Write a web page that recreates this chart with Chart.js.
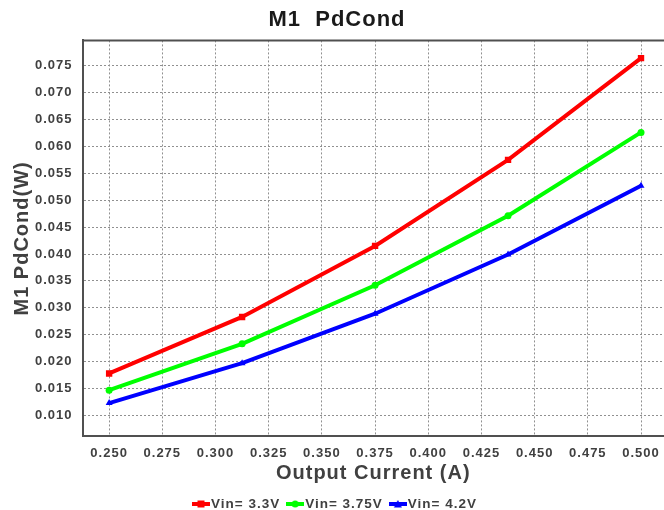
<!DOCTYPE html>
<html>
<head>
<meta charset="utf-8">
<script src="https://cdn.jsdelivr.net/npm/chart.js@4/dist/chart.umd.min.js"></script>
<style>
  html, body { margin: 0; padding: 0; background: #fff; }
  #wrap { width: 664px; height: 510px; }
</style>
</head>
<body>
<div id="wrap"><canvas id="c" width="664" height="510"></canvas></div>
<script>
// Output current (A) at each measurement
const currents = [0.25, 0.3125, 0.375, 0.4375, 0.5];
// M1 conduction loss (W) for each input voltage
const pd33 = [0.0178, 0.0283, 0.0415, 0.0575, 0.0764];
const pd375 = [0.0147, 0.0233, 0.0342, 0.0471, 0.0626];
const pd42 = [0.0123, 0.0197, 0.0289, 0.0399, 0.0527];
const seriesNames = ['Vin= 3.3V', 'Vin= 3.75V', 'Vin= 4.2V'];
// Axis tick positions
const xTicks = [0.25, 0.275, 0.3, 0.325, 0.35, 0.375, 0.4, 0.425, 0.45, 0.475, 0.5];
const yTicks = [0.01, 0.015, 0.02, 0.025, 0.03, 0.035, 0.04, 0.045, 0.05, 0.055, 0.06, 0.065, 0.07, 0.075];

const FONT = '"Liberation Sans", Arial, sans-serif';
const TEXT = '#404040';
const AXIS = '#505050';

// Small legend swatch: a short line with the series marker on it
function swatch(color, style) {
  const c = document.createElement('canvas');
  c.width = 18; c.height = 10;
  const g = c.getContext('2d');
  g.strokeStyle = color; g.fillStyle = color; g.lineWidth = 4;
  g.beginPath(); g.moveTo(0, 5); g.lineTo(18, 5); g.stroke();
  g.beginPath();
  if (style === 'rect') g.rect(5.5, 1.5, 7, 7);
  else if (style === 'circle') g.arc(9, 5, 3.5, 0, Math.PI * 2);
  else { g.moveTo(9, 1); g.lineTo(13, 8.5); g.lineTo(5, 8.5); g.closePath(); }
  g.fill();
  return c;
}

function pts(ys) { return currents.map((x, i) => ({ x, y: ys[i] })); }

const styles = [
  { color: '#ff0000', point: 'rect', radius: 4.5 },
  { color: '#00ff00', point: 'circle', radius: 3.5 },
  { color: '#0000ff', point: 'triangle', radius: 4 }
];
const values = [pd33, pd375, pd42];

const datasets = values.map((v, i) => ({
  label: seriesNames[i],
  data: pts(v),
  borderColor: styles[i].color,
  backgroundColor: styles[i].color,
  borderWidth: 4,
  pointStyle: styles[i].point,
  pointRadius: styles[i].radius,
  pointBorderWidth: 0,
  pointBackgroundColor: styles[i].color,
  tension: 0
}));

// Slightly spaced lettering for all chart text
const spacing = {
  id: 'spacing',
  beforeUpdate(chart) { chart.ctx.letterSpacing = '1px'; },
  beforeDraw(chart) { chart.ctx.letterSpacing = '1px'; }
};

// Frame line along the top of the plot area
const topBorder = {
  id: 'topBorder',
  afterDatasetsDraw(chart) {
    const { ctx, chartArea } = chart;
    ctx.save();
    ctx.strokeStyle = AXIS;
    ctx.lineWidth = 2;
    ctx.beginPath();
    ctx.moveTo(chartArea.left, chartArea.top);
    ctx.lineTo(chartArea.right, chartArea.top);
    ctx.stroke();
    ctx.restore();
  }
};

// Compact legend row along the bottom edge: swatch followed by series name
const legendRow = {
  id: 'legendRow',
  afterDraw(chart) {
    const ctx = chart.ctx;
    const sets = chart.data.datasets;
    ctx.save();
    ctx.letterSpacing = '1px';
    ctx.font = 'bold 13.5px ' + FONT;
    ctx.textAlign = 'left';
    ctx.textBaseline = 'middle';
    ctx.fillStyle = TEXT;
    const gap = 6, sw = 18;
    const widths = sets.map(d => ctx.measureText(d.label).width);
    const total = widths.reduce((a, w) => a + sw + 1 + w, 0) + gap * (sets.length - 1);
    let x = Math.round(chart.width / 2 - total / 2) + 2;
    const y = chart.height - 6;
    sets.forEach((d, i) => {
      ctx.drawImage(swatch(styles[i].color, styles[i].point), x, y - 5);
      x += sw + 1;
      ctx.fillText(d.label, x, y);
      x += widths[i] + gap;
    });
    ctx.restore();
  }
};

new Chart(document.getElementById('c'), {
  type: 'line',
  data: { datasets },
  plugins: [spacing, topBorder, legendRow],
  options: {
    responsive: false,
    animation: false,
    layout: { autoPadding: false, padding: { left: 10, right: 0, top: 0, bottom: 12 } },
    plugins: {
      title: {
        display: true,
        text: 'M1  PdCond',
        color: '#1a1a1a',
        font: { family: FONT, size: 22, weight: 'bold' },
        padding: { top: 7, bottom: 7 }
      },
      legend: { display: false },
      tooltip: { enabled: false }
    },
    scales: {
      x: {
        type: 'linear',
        min: 0.2375,
        max: 0.5108,
        afterBuildTicks(scale) { scale.ticks = xTicks.map(v => ({ value: v })); },
        afterFit(scale) { scale.paddingLeft = 0; scale.paddingRight = 0; },
        ticks: {
          color: TEXT,
          font: { family: FONT, size: 13, weight: 'bold' },
          padding: 9,
          maxRotation: 0,
          callback: v => v.toFixed(3)
        },
        grid: { color: '#909090', lineWidth: 1, drawTicks: false },
        border: { display: true, color: AXIS, width: 2, dash: [2, 2] },
        title: {
          display: true,
          text: 'Output Current (A)',
          color: TEXT,
          font: { family: FONT, size: 20, weight: 'bold' },
          padding: { top: -9, bottom: 13 }
        }
      },
      y: {
        min: 0.0061,
        max: 0.0797,
        afterBuildTicks(scale) { scale.ticks = yTicks.map(v => ({ value: v })); },
        ticks: {
          color: TEXT,
          font: { family: FONT, size: 13, weight: 'bold' },
          padding: 10,
          callback: v => v.toFixed(3)
        },
        grid: { color: '#909090', lineWidth: 1, drawTicks: false },
        border: { display: true, color: AXIS, width: 2, dash: [2, 2] },
        title: {
          display: true,
          text: 'M1 PdCond(W)',
          color: TEXT,
          font: { family: FONT, size: 20, weight: 'bold' },
          padding: { top: 0, bottom: -9 }
        }
      }
    }
  }
});
</script>
</body>
</html>
